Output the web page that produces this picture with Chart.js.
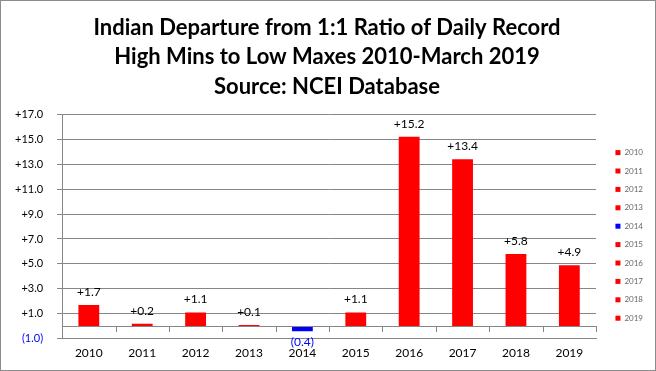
<!DOCTYPE html>
<html>
<head>
<meta charset="utf-8">
<script src="https://cdn.jsdelivr.net/npm/chart.js@4"></script>
<style>
  html, body { margin: 0; padding: 0; background: #fff; }
  #wrap { width: 656px; height: 371px; box-sizing: border-box; border: 1px solid #8c8c8c; }
</style>
</head>
<body>
<div id="wrap"><canvas id="departureChart"></canvas></div>
<script>
// Anos (categorias) e desvio em relação à razão 1:1
const years = ['2010', '2011', '2012', '2013', '2014', '2015', '2016', '2017', '2018', '2019'];
const departures = [1.7, 0.2, 1.1, 0.1, -0.4, 1.1, 15.2, 13.4, 5.8, 4.9];
const titleLines = [
  'Indian Departure from 1:1 Ratio of Daily Record',
  'High Mins to Low Maxes 2010-March 2019',
  'Source: NCEI Database'
];

const FONT = 'Lato, "Liberation Sans", sans-serif';

function fmt(v) {
  return v < 0 ? '(' + Math.abs(v).toFixed(1) + ')' : '+' + v.toFixed(1);
}
const barColors = departures.map(v => v < 0 ? '#0000ff' : '#ff0000');

// linha do zero e marcas das categorias
const zeroLinePlugin = {
  id: 'zeroLine',
  afterDraw(chart) {
    const { ctx, chartArea, scales } = chart;
    const y0 = scales.y.getPixelForValue(0);
    const n = years.length;
    const step = (chartArea.right - chartArea.left) / n;
    ctx.save();
    ctx.strokeStyle = '#868686';
    ctx.lineWidth = 1;
    ctx.beginPath();
    ctx.moveTo(chartArea.left, Math.round(y0) + 0.5);
    ctx.lineTo(chartArea.right, Math.round(y0) + 0.5);
    for (let i = 1; i <= n; i++) {
      const x = Math.round(chartArea.left + step * i) + 0.5;
      ctx.moveTo(x, Math.round(y0));
      ctx.lineTo(x, Math.round(y0) + 6);
    }
    ctx.stroke();
    ctx.restore();
  }
};

// rótulos de valor acima/abaixo das barras
const valueLabelPlugin = {
  id: 'valueLabels',
  afterDatasetsDraw(chart) {
    const { ctx } = chart;
    const meta = chart.getDatasetMeta(0);
    ctx.save();
    ctx.font = '12px ' + FONT;
    ctx.textAlign = 'center';
    meta.data.forEach((bar, i) => {
      const v = departures[i];
      if (v < 0) {
        ctx.fillStyle = '#0000ff';
        ctx.textBaseline = 'top';
        ctx.fillText(fmt(v), bar.x, bar.y + 5);
      } else {
        ctx.fillStyle = '#000';
        ctx.textBaseline = 'bottom';
        ctx.fillText(fmt(v), bar.x, bar.y - 7);
      }
    });
    ctx.restore();
  }
};

new Chart(document.getElementById('departureChart'), {
  type: 'bar',
  data: {
    labels: years,
    datasets: [{
      label: 'Departure',
      data: departures,
      backgroundColor: barColors,
      borderWidth: 0,
      barPercentage: 0.39,
      categoryPercentage: 1.0
    }]
  },
  options: {
    responsive: true,
    maintainAspectRatio: false,
    animation: false,
    layout: { padding: { left: 0, right: 2, top: 6, bottom: 3 } },
    plugins: {
      title: {
        display: true,
        text: titleLines,
        color: '#000',
        font: { family: FONT, size: 22, weight: 'bold', lineHeight: 1.34 },
        padding: { top: 6, bottom: 13 }
      },
      legend: {
        display: true,
        position: 'right',
        title: { display: true, text: ' ', padding: { top: 86, bottom: 0 }, font: { size: 9 } },
        labels: {
          boxWidth: 5,
          boxHeight: 5,
          padding: 10.4,
          color: '#000',
          font: { family: FONT, size: 8 },
          generateLabels: () => years.map((y, i) => ({
            text: y,
            fillStyle: barColors[i],
            strokeStyle: barColors[i],
            lineWidth: 0,
            index: i
          }))
        }
      },
      tooltip: { enabled: false }
    },
    scales: {
      x: {
        grid: { display: false, drawTicks: false },
        border: { display: true, color: '#868686' },
        ticks: { color: '#000', font: { family: FONT, size: 12 }, padding: 7 }
      },
      y: {
        min: -1,
        max: 17,
        grid: { color: '#868686', tickLength: 5 },
        border: { display: true, color: '#868686' },
        ticks: {
          stepSize: 2,
          padding: 14,
          font: { family: FONT, size: 11 },
          color: ctx => ctx.tick && ctx.tick.value < 0 ? '#0000ff' : '#000',
          callback: v => fmt(v)
        }
      },
      // eixo vazio só para afastar a legenda da área do gráfico
      gap: {
        type: 'linear',
        position: 'right',
        display: true,
        grid: { display: false },
        border: { display: false },
        ticks: { display: false },
        afterFit: scale => { scale.width = 9; }
      }
    }
  },
  plugins: [zeroLinePlugin, valueLabelPlugin]
});
</script>
</body>
</html>
